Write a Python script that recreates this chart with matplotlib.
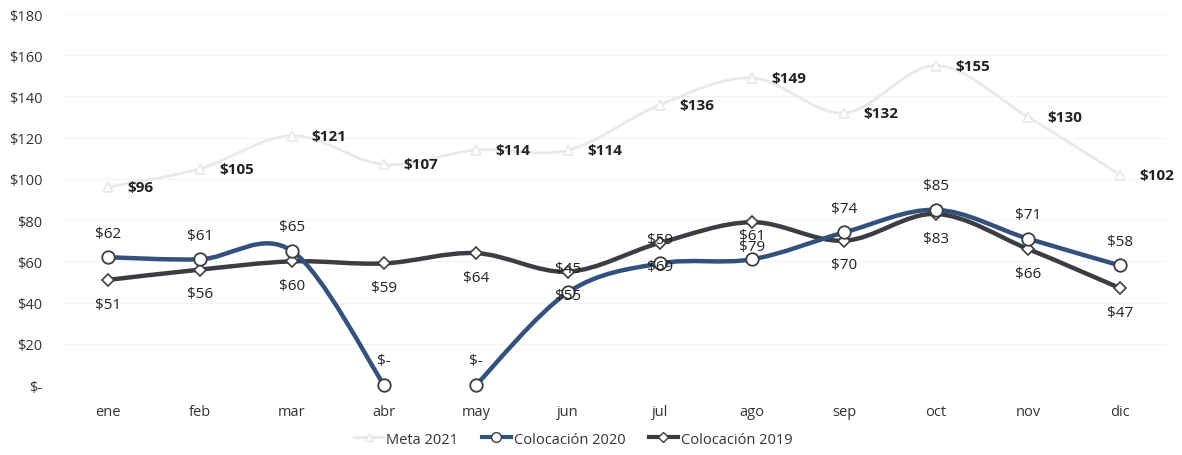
import matplotlib.pyplot as plt
import numpy as np
from matplotlib.lines import Line2D
from matplotlib.patches import PathPatch
from matplotlib.path import Path

months = ["ene", "feb", "mar", "abr", "may", "jun", "jul", "ago", "sep", "oct", "nov", "dic"]
meta_2021 = [96, 105, 121, 107, 114, 114, 136, 149, 132, 155, 130, 102]
coloc_2020 = [62, 61, 65, 0, 0, 45, 59, 61, 74, 85, 71, 58]
coloc_2019 = [51, 56, 60, 59, 64, 55, 69, 79, 70, 83, 66, 47]
# 2020 line is broken between abr and may
gap_after_2020 = 3

yticks = [0, 20, 40, 60, 80, 100, 120, 140, 160, 180]
ytick_labels = ["$-", "$20", "$40", "$60", "$80", "$100", "$120", "$140", "$160", "$180"]

plt.rcParams["font.family"] = ["Open Sans", "DejaVu Sans"]

META_C = "#e9e9e9"
C2020 = "#34507c"
C2019 = "#3a3d42"
TXT = "#222222"


def smooth_path(xs, ys):
    # Excel-style smoothed line as cubic bezier segments
    pts = np.column_stack([xs, ys]).astype(float)
    n = len(pts)
    verts = [pts[0]]
    codes = [Path.MOVETO]
    for i in range(n - 1):
        p0 = pts[i - 1] if i > 0 else pts[i]
        p1 = pts[i]
        p2 = pts[i + 1]
        p3 = pts[i + 2] if i + 2 < n else pts[i + 1]
        c1 = p1 + (p2 - p0) / 6
        c2 = p2 - (p3 - p1) / 6
        verts += [c1, c2, p2]
        codes += [Path.CURVE4] * 3
    return Path(verts, codes)


def draw_smooth(ax, xs, ys, color, lw, z):
    ax.add_patch(PathPatch(smooth_path(xs, ys), facecolor="none", edgecolor=color,
                           lw=lw, zorder=z, capstyle="round", joinstyle="round"))


fig = plt.figure(figsize=(11.82, 4.56), dpi=100)
ax = fig.add_axes([0.0525, 0.1535, 0.934, 0.8135])

x = np.arange(len(months))

# Meta 2021 (very faint)
draw_smooth(ax, x, meta_2021, META_C, 2.0, 2)
ax.plot(x, meta_2021, ls="none", marker="^", ms=7, mfc="white", mec=META_C, mew=1.2, zorder=3)

# Colocación 2019
draw_smooth(ax, x, coloc_2019, C2019, 3.2, 4)
ax.plot(x, coloc_2019, ls="none", marker="D", ms=6, mfc="white", mec=C2019, mew=1.2,
        zorder=6, clip_on=False)

# Colocación 2020 in two pieces
g = gap_after_2020 + 1
draw_smooth(ax, x[:g], coloc_2020[:g], C2020, 3.2, 5)
draw_smooth(ax, x[g:], coloc_2020[g:], C2020, 3.2, 5)
ax.plot(x, coloc_2020, ls="none", marker="o", ms=9, mfc="white", mec=C2019, mew=1.3,
        zorder=7, clip_on=False)


def money(v):
    return "$-" if v == 0 else f"${v}"


for xi, v in zip(x, meta_2021):
    ax.annotate(money(v), (xi, v), xytext=(14, 0), textcoords="offset points",
                ha="left", va="center", fontsize=11, fontweight="bold", color=TXT)
for xi, v in zip(x, coloc_2020):
    ax.annotate(money(v), (xi, v), xytext=(0, 12), textcoords="offset points",
                ha="center", va="bottom", fontsize=11, color=TXT, zorder=8)
for xi, v in zip(x, coloc_2019):
    ax.annotate(money(v), (xi, v), xytext=(0, -12), textcoords="offset points",
                ha="center", va="top", fontsize=11, color=TXT, zorder=8)

ax.set_xlim(-0.5, len(months) - 0.5)
ax.set_ylim(0, 180)
ax.set_xticks(x)
ax.set_xticklabels(months)
ax.set_yticks(yticks)
ax.set_yticklabels(ytick_labels)
ax.tick_params(axis="both", length=0, labelsize=10.5, colors="#333333")
ax.tick_params(axis="x", pad=14)
ax.tick_params(axis="y", pad=14)
for s in ax.spines.values():
    s.set_visible(False)
ax.grid(axis="y", color="#f5f5f5", lw=0.8)
ax.set_axisbelow(True)

handles = [
    Line2D([], [], color=META_C, lw=2, marker="^", ms=6, mfc="white", mec=META_C),
    Line2D([], [], color=C2020, lw=3, marker="o", ms=7, mfc="white", mec=C2019),
    Line2D([], [], color=C2019, lw=3, marker="D", ms=5, mfc="white", mec=C2019),
]
fig.legend(handles, ["Meta 2021", "Colocación 2020", "Colocación 2019"],
           loc="center", bbox_to_anchor=(0.485, 0.035), ncol=3, frameon=False,
           fontsize=10.5, handlelength=2.0, handletextpad=0.2, columnspacing=1.6,
           labelcolor="#333333")

fig.savefig("out.png", dpi=100)
